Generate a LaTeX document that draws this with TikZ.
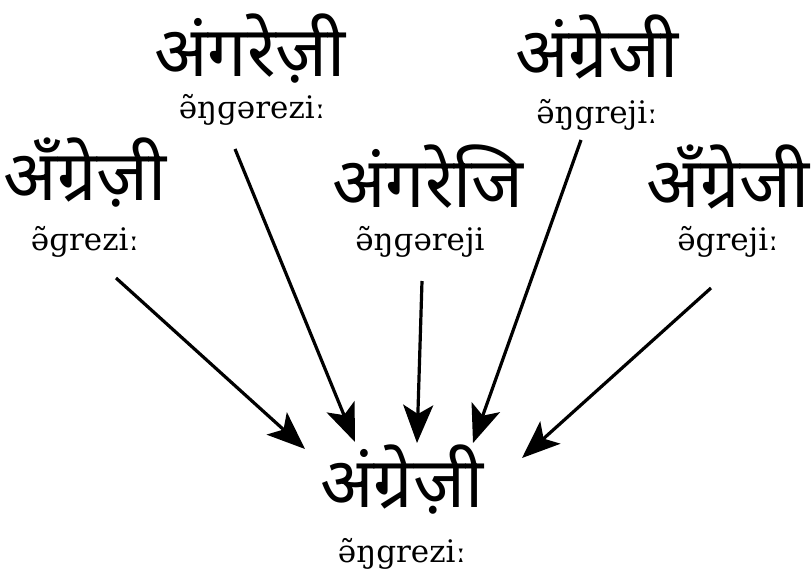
\documentclass[tikz,border=0pt]{standalone}
\usepackage{fontspec}
\newfontfamily\deva[Script=Devanagari]{Noto Sans}
\newfontfamily\ipa{DejaVu Serif}
\usetikzlibrary{arrows.meta}
\begin{document}
\begin{tikzpicture}[x=1pt,y=-1pt,
  word/.style={font=\deva\fontsize{70}{80}\selectfont, anchor=base, inner sep=0pt},
  sound/.style={font=\ipa\fontsize{31}{36}\selectfont, anchor=base, inner sep=0pt},
  link/.style={line width=3.2pt, -{Stealth[length=38pt,width=30pt,inset=9pt]}}]
\useasboundingbox (0,0) rectangle (812,570);

% spellings and their pronunciations
\node[word]  (wA) at (250,76)  {अंगरेज़ी};
\node[sound] (sA) at (252,118) {ə̃ŋɡəreziː};
\node[word]  (wB) at (85,200)  {अँग्रेज़ी};
\node[sound] (sB) at (85,250)  {ə̃ɡreziː};
\node[word]  (wC) at (428,207) {अंगरेजि};
\node[sound] (sC) at (420,250) {ə̃ŋɡəreji};
\node[word]  (wD) at (597,77)  {अंग्रेजी};
\node[sound] (sD) at (597,123) {ə̃ŋgrejiː};
\node[word]  (wE) at (728,207) {अँग्रेजी};
\node[sound] (sE) at (728,250) {ə̃grejiː};
\node[word]  (wF) at (402,507) {अंग्रेज़ी};
\node[sound] (sF) at (402,562) {ə̃ŋgreziː};

% arrow ends
\coordinate (a1) at (116,278); \coordinate (b1) at (305,449);
\coordinate (a2) at (235,149); \coordinate (b2) at (355,442);
\coordinate (a3) at (422,281); \coordinate (b3) at (417,443);
\coordinate (a4) at (581,140); \coordinate (b4) at (473,443);
\coordinate (a5) at (711,288); \coordinate (b5) at (522,458);

\draw[link] (a1) -- (b1);
\draw[link] (a2) -- (b2);
\draw[link] (a3) -- (b3);
\draw[link] (a4) -- (b4);
\draw[link] (a5) -- (b5);
\end{tikzpicture}
\end{document}
